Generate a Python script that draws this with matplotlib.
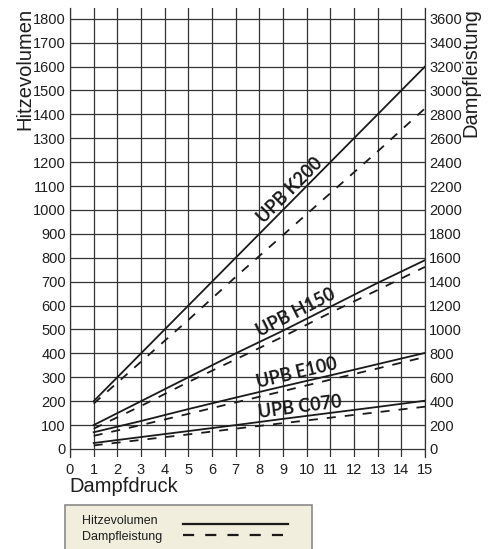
import matplotlib.pyplot as plt
from matplotlib.patches import Rectangle
from matplotlib.lines import Line2D

plt.rcParams['font.family'] = ['Liberation Sans', 'DejaVu Sans']

# Dampfdruck (x) and Hitzevolumen values per model, solid = Hitzevolumen, dashed = Dampfleistung/2
druck = [1, 3, 5, 7, 9, 11, 13, 15]
k200_hv = [200, 400, 600, 800, 1000, 1200, 1400, 1600]
k200_dl = [190, 365, 540, 720, 895, 1070, 1245, 1425]
h150_hv = [100, 200, 300, 400, 495, 595, 695, 790]
h150_dl = [85, 180, 280, 375, 470, 570, 665, 762]
e100_hv = [70, 117, 167, 215, 262, 308, 355, 402]
e100_dl = [55, 100, 147, 195, 242, 290, 337, 385]
c070_hv = [25, 50, 75, 100, 126, 151, 176, 202]
c070_dl = [15, 38, 61, 85, 108, 131, 154, 177]

modelle = ['UPB K200', 'UPB H150', 'UPB E100', 'UPB C070']
label_x = [9.3, 9.55, 9.6, 9.7]
label_y = [1082, 572, 317, 176]
label_rot = [45, 27, 13.5, 7.5]

x_ticks = list(range(0, 16))
left_ticks = list(range(0, 1900, 100))
right_ticks = list(range(0, 3800, 200))

W, H = 493, 549
fig = plt.figure(figsize=(W / 100, H / 100), dpi=100)
ax = fig.add_axes([70 / W, 1 - 457 / H, 355 / W, 449 / H])

grid_c = '#333333'
line_c = '#1a1a1a'

ax.set_xlim(0, 15)
ax.set_ylim(-33.5, 1845)
for xv in x_ticks:
    ax.axvline(xv, color=grid_c, lw=0.9, zorder=1)
for yv in left_ticks:
    ax.axhline(yv, color=grid_c, lw=0.9, zorder=1)

for hv, dl in [(k200_hv, k200_dl), (h150_hv, h150_dl), (e100_hv, e100_dl), (c070_hv, c070_dl)]:
    ax.plot(druck, hv, color=line_c, lw=1.3, zorder=3)
    ax.plot(druck, dl, color=line_c, lw=1.3, ls=(0, (5, 5)), zorder=3)

for name, lx, ly, rot in zip(modelle, label_x, label_y, label_rot):
    ax.text(lx, ly, name, rotation=rot, ha='center', va='center',
            fontsize=13, fontweight='bold', family=['Lato', 'DejaVu Sans'],
            color=line_c, rotation_mode='anchor', zorder=4)

for s in ['top', 'bottom']:
    ax.spines[s].set_visible(False)
for s in ['left', 'right']:
    ax.spines[s].set_color(grid_c)
    ax.spines[s].set_linewidth(0.9)

ax.set_xticks(x_ticks)
ax.set_yticks(left_ticks)
ax.tick_params(axis='both', length=0, labelsize=10.5, colors='#1e1e1e')
ax.tick_params(axis='x', pad=4)
ax.tick_params(axis='y', pad=3)

ax2 = ax.twinx()
ax2.set_ylim(-67, 3690)
ax2.set_yticks(right_ticks)
ax2.tick_params(axis='y', length=0, labelsize=10.5, pad=3, colors='#1e1e1e')
for s in ['top', 'bottom', 'left', 'right']:
    ax2.spines[s].set_visible(False)

fig.text(24.5 / W, 1 - 8 / H, 'Hitzevolumen', rotation=90, ha='center', va='top', fontsize=14.5, color='#1e1e1e')
fig.text(471 / W, 1 - 8 / H, 'Dampfleistung', rotation=90, ha='center', va='top', fontsize=14.5, color='#1e1e1e')
fig.text(69 / W, 1 - 487 / H, 'Dampfdruck', ha='left', va='center', fontsize=14.5, color='#1e1e1e')

# legend box (cut at the bottom edge)
fig.patches.append(Rectangle((65 / W, -0.05), (312 - 65) / W, 0.05 + 1 - 505 / H,
                             transform=fig.transFigure, facecolor='#f1eedd',
                             edgecolor='#8a8a8a', lw=1.2, zorder=0))
fig.text(82 / W, 1 - 521 / H, 'Hitzevolumen', ha='left', va='center', fontsize=9, color='#1e1e1e')
fig.text(82 / W, 1 - 537 / H, 'Dampfleistung', ha='left', va='center', fontsize=9, color='#1e1e1e')
fig.lines.append(Line2D([183 / W, 288 / W], [1 - 524 / H, 1 - 524 / H], transform=fig.transFigure,
                        color=line_c, lw=1.6))
fig.lines.append(Line2D([183 / W, 288 / W], [1 - 535 / H, 1 - 535 / H], transform=fig.transFigure,
                        color=line_c, lw=1.6, ls=(0, (5, 5))))

fig.savefig('out.png', dpi=100)
